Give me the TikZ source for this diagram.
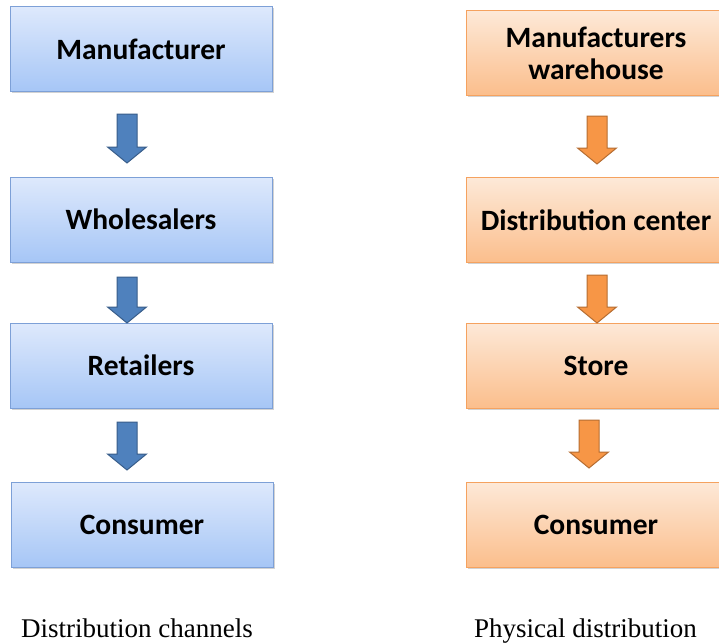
\documentclass[tikz,border=0pt]{standalone}
\usepackage{fontspec}
\setmainfont{Liberation Serif}
\newfontfamily\boxfont{Carlito}
\usetikzlibrary{shadows}
\definecolor{bluetop}{RGB}{222,233,252}
\definecolor{bluebot}{RGB}{166,198,246}
\definecolor{blueline}{RGB}{125,160,215}
\definecolor{orgtop}{RGB}{253,233,216}
\definecolor{orgbot}{RGB}{251,190,140}
\definecolor{orgline}{RGB}{245,162,95}
\definecolor{barrowfill}{RGB}{79,129,189}
\definecolor{barrowline}{RGB}{56,93,138}
\definecolor{oarrowfill}{RGB}{247,150,70}
\definecolor{oarrowline}{RGB}{182,109,49}
\tikzset{
  boxbase/.style={rectangle, minimum height=85pt, inner sep=0pt, align=center,
    font=\boxfont\bfseries\fontsize{29.5}{32}\selectfont, text=black, line width=1pt,
    drop shadow={shadow xshift=1.5pt, shadow yshift=-1.5pt, opacity=0.35}},
  bluebox/.style={boxbase, minimum width=262pt, draw=blueline, top color=bluetop, bottom color=bluebot},
  orgbox/.style={boxbase, minimum width=260pt, draw=orgline, top color=orgtop, bottom color=orgbot},
  barrow/.style={fill=barrowfill, draw=barrowline, line width=1pt, line join=miter},
  oarrow/.style={fill=oarrowfill, draw=oarrowline, line width=1pt, line join=miter},
  caption/.style={font=\fontsize{27}{29}\selectfont, inner sep=0pt, anchor=base}
}
% #1 style, #2 x centre, #3 top y, #4 tip y
\newcommand\flowarrow[4]{%
  \draw[#1] (#2-10,#3) -- (#2+10,#3) -- (#2+10,#4-16) -- (#2+19.5,#4-16) -- (#2,#4)
    -- (#2-19.5,#4-16) -- (#2-10,#4-16) -- cycle;}
\begin{document}
\begin{tikzpicture}[x=1pt,y=-1pt]
\clip (0,0) rectangle (719,642);
\fill[white] (0,0) rectangle (719,642);
% left column
\node[bluebox] (m) at (141,49) {Manufacturer};
\node[bluebox] (w) at (141,219.5) {Wholesalers};
\node[bluebox] (r) at (141,365.5) {Retailers};
\node[bluebox] (c) at (142,524.5) {Consumer};
\flowarrow{barrow}{127}{114}{163}
\flowarrow{barrow}{127}{277}{323}
\flowarrow{barrow}{127}{422}{470}
% right column
\node[orgbox] (mw) at (596,53) {Manufacturers\\[0pt]warehouse};
\node[orgbox] (dc) at (596,220) {Distribution center};
\node[orgbox] (st) at (596,365.5) {Store};
\node[orgbox] (pc) at (596,524.5) {Consumer};
\flowarrow{oarrow}{597}{116}{164}
\flowarrow{oarrow}{597}{275}{323}
\flowarrow{oarrow}{589}{420}{468}
% captions
\node[caption] (cap1) at (137,637) {Distribution channels};
\node[caption] (cap2) at (585.5,637) {Physical distribution};
\end{tikzpicture}
\end{document}
